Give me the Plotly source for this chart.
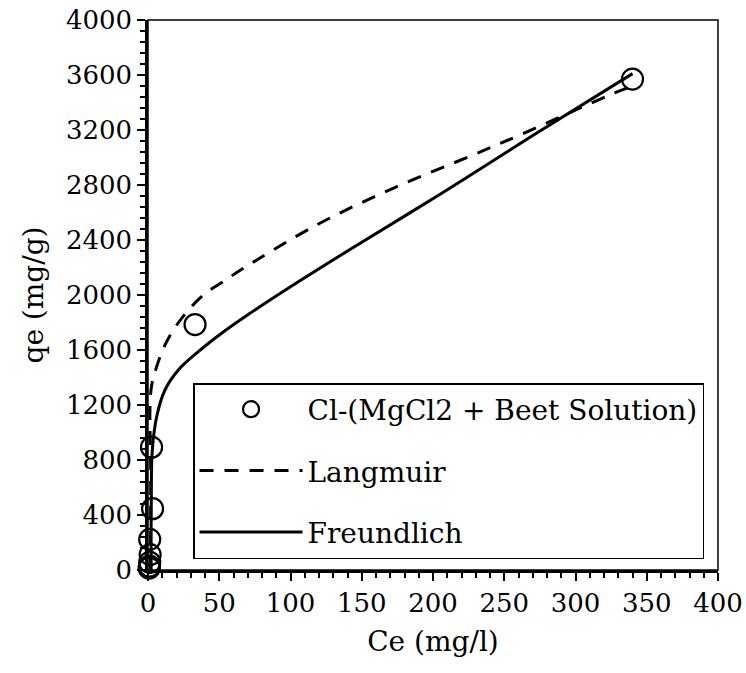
import plotly.graph_objects as go

# Experimental data
ce_data = [340, 33, 2.5, 3.2, 1.2, 1.5, 1.2, 1.0, 0.8]
qe_data = [3570, 1785, 893, 446, 223, 112, 56, 28, 14]

# Langmuir fitted curve
lang_ce = [1.8, 1.9, 2.1, 6.1, 13.1, 23.6, 38.8, 52.8, 66.9, 118.4, 172, 228, 261, 324, 340]
lang_qe = [0, 700, 1309, 1479, 1661, 1830, 2000, 2097, 2194, 2510, 2776, 3018, 3164, 3455, 3520]

# Freundlich fitted curve
freu_ce = [2.2, 2.3, 3.0, 6.1, 11.9, 21.3, 35.3, 54, 72, 100, 140, 205, 270, 340]
freu_qe = [0, 500, 870, 1115, 1309, 1455, 1588, 1740, 1870, 2060, 2320, 2733, 3160, 3610]

x_ticks = [0, 50, 100, 150, 200, 250, 300, 350, 400]
y_ticks = [0, 400, 800, 1200, 1600, 2000, 2400, 2800, 3200, 3600, 4000]

FONT = "DejaVu Serif"

fig = go.Figure()
fig.add_trace(go.Scatter(
    x=ce_data, y=qe_data, mode="markers", name="Cl-(MgCl2 + Beet Solution)",
    marker=dict(symbol="circle-open", size=21, color="black", line=dict(width=2.2, color="black")),
    cliponaxis=False, legendgroup="a",
))
fig.add_trace(go.Scatter(
    x=lang_ce, y=lang_qe, mode="lines", name="Langmuir",
    line=dict(color="black", width=3, dash="14px,11px", shape="spline", smoothing=1.0),
    legendgroup="b",
))
fig.add_trace(go.Scatter(
    x=freu_ce, y=freu_qe, mode="lines", name="Freundlich",
    line=dict(color="black", width=3, shape="spline", smoothing=1.0),
    legendgroup="c",
))

axis_common = dict(
    showgrid=False, zeroline=False, showline=True, linecolor="black", linewidth=2.5,
    ticks="outside", ticklen=8, tickwidth=1.5, tickcolor="black", automargin=False,
    ticklabeloverflow="allow",
    tickfont=dict(family=FONT, size=26, color="black"),
    minor=dict(ticks="outside", ticklen=5, tickwidth=1.5, tickcolor="black"),
)

fig.update_xaxes(
    range=[0, 400], tickvals=x_ticks, ticktext=[str(v) for v in x_ticks],
    title=dict(text="Ce (mg/l)", font=dict(family=FONT, size=28, color="black")),
    **axis_common,
)
fig.update_yaxes(
    range=[0, 4000], tickvals=y_ticks, ticktext=[str(v) for v in y_ticks],
    title=dict(text="qe (mg/g)", font=dict(family=FONT, size=28, color="black")),
    **axis_common,
)
fig.update_xaxes(minor=dict(dtick=10, tick0=0))
fig.update_yaxes(minor=dict(dtick=80, tick0=0))

fig.add_shape(type="rect", xref="paper", yref="paper", x0=0, y0=0, x1=1, y1=1,
              line=dict(color="black", width=1.5), layer="below")

fig.update_layout(
    width=746, height=673,
    margin=dict(l=148, r=28, t=20, b=103, autoexpand=False),
    plot_bgcolor="white", paper_bgcolor="white",
    font=dict(family=FONT, color="black"),
    legend=dict(
        x=0.079, y=0.34, xanchor="left", yanchor="top",
        bgcolor="white", bordercolor="black", borderwidth=1.5,
        font=dict(family=FONT, size=28, color="black"),
        itemwidth=103, tracegroupgap=22,
    ),
)

fig.write_html("out.html")
